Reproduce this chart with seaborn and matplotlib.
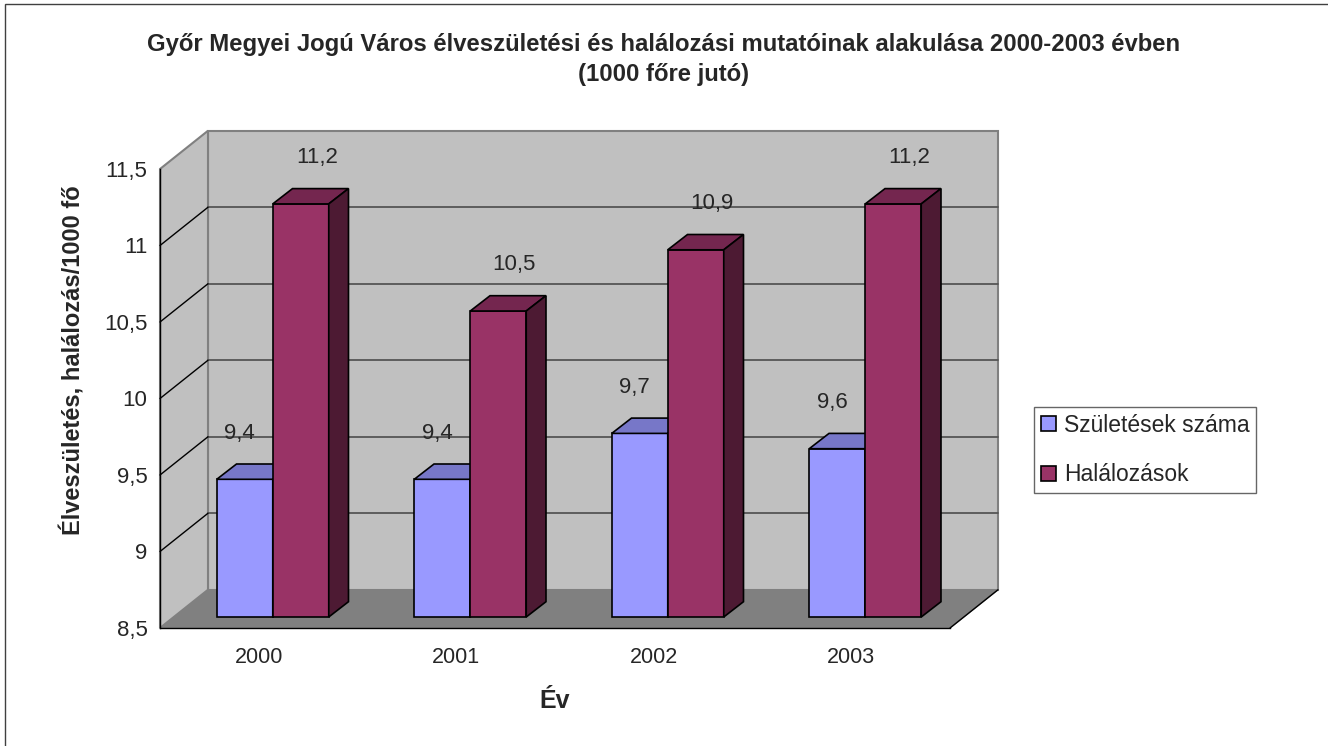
import numpy as np
import pandas as pd
import seaborn as sns
import matplotlib.pyplot as plt
from matplotlib.patches import Polygon, Rectangle, Patch
from matplotlib.ticker import FixedLocator, FuncFormatter, NullFormatter

# chart data
years = ["2000", "2001", "2002", "2003"]
births = [9.4, 9.4, 9.7, 9.6]
deaths = [11.2, 10.5, 10.9, 11.2]
series_names = ["Születések száma", "Halálozások"]
y_ticks = [8.5, 9, 9.5, 10, 10.5, 11, 11.5]

title_lines = ["Győr Megyei Jogú Város élveszületési és halálozási mutatóinak alakulása 2000-2003 évben",
               "(1000 főre jutó)"]
y_label = "Élveszületés, halálozás/1000 fő"
x_label = "Év"

# excel-ish 3d colours: front face, top face, side face
front_colors = ["#9999FF", "#993366"]
top_colors = ["#7777C8", "#74264F"]
side_colors = ["#5C5C99", "#4D1A33"]

W, H = 1328, 746
YMIN, YMAX = 8.5, 11.5
WALL_DX, WALL_DY = 0.243, 0.25   # depth of the box, in data units
BAR_DX, BAR_DY = 0.10, 0.10     # depth of one bar
LABEL_DX = [-5, 16]             # data label shift (pixels) per series


def comma(v, pos=None):
    return f"{v:g}".replace(".", ",")


sns.set_style("white")
plt.rcParams["font.family"] = ["Liberation Sans", "DejaVu Sans"]

fig = plt.figure(figsize=(W / 100, H / 100), dpi=100)

# front plane of the box (axis lines, ticks, walls) and the plane the bars stand in
ax_box = fig.add_axes([160 / W, 118 / H, 790 / W, 459 / H])
ax = fig.add_axes([174 / W, 129 / H, 790 / W, 459 / H])

# ---- box: floor, walls, gridlines
ax_box.set_xlim(-0.5, len(years) - 0.5)
ax_box.set_ylim(YMIN, YMAX)
x0, x1 = -0.5, len(years) - 0.5

floor = Polygon([(x0, YMIN), (x1, YMIN), (x1 + WALL_DX, YMIN + WALL_DY), (x0 + WALL_DX, YMIN + WALL_DY)],
                closed=True, fc="#808080", ec="#808080", lw=1, clip_on=False, zorder=0.5)
back = Rectangle((x0 + WALL_DX, YMIN + WALL_DY), x1 - x0, YMAX - YMIN,
                 fc="#C0C0C0", ec="#808080", lw=1.5, clip_on=False, zorder=0.4)
side = Polygon([(x0, YMIN), (x0, YMAX), (x0 + WALL_DX, YMAX + WALL_DY), (x0 + WALL_DX, YMIN + WALL_DY)],
               closed=True, fc="#C0C0C0", ec="#808080", lw=1.5, clip_on=False, zorder=0.6)
for p in (floor, back, side):
    ax_box.add_patch(p)

for t in y_ticks[1:-1]:
    ax_box.plot([x0 + WALL_DX, x1 + WALL_DX], [t + WALL_DY] * 2, color="#555555", lw=1.3,
                clip_on=False, zorder=0.7)
    ax_box.plot([x0, x0 + WALL_DX], [t, t + WALL_DY], color="black", lw=1, clip_on=False, zorder=0.7)
ax_box.plot([x1, x1 + WALL_DX], [YMIN, YMIN + WALL_DY], color="black", lw=1, clip_on=False, zorder=0.7)

ax_box.patch.set_alpha(0)
for s in ["top", "right"]:
    ax_box.spines[s].set_visible(False)
for s in ["left", "bottom"]:
    ax_box.spines[s].set_color("black")
    ax_box.spines[s].set_linewidth(1)

ax_box.yaxis.set_major_locator(FixedLocator(y_ticks))
ax_box.yaxis.set_major_formatter(FuncFormatter(comma))
ax_box.tick_params(axis="y", direction="out", length=6, width=1, color="black", labelsize=16, pad=3)

ax_box.xaxis.set_major_locator(FixedLocator(np.arange(len(years) + 1) - 0.5))
ax_box.xaxis.set_major_formatter(NullFormatter())
ax_box.xaxis.set_minor_locator(FixedLocator(np.arange(len(years))))
ax_box.xaxis.set_minor_formatter(FuncFormatter(lambda v, pos: years[int(round(v))]))
ax_box.tick_params(axis="x", which="major", direction="out", length=7, width=1, color="black")
ax_box.tick_params(axis="x", which="minor", length=0, labelsize=15.5, pad=14)

ax_box.set_ylabel(y_label, fontsize=17, fontweight="bold")
ax_box.yaxis.set_label_coords(-0.094, 0.584)
ax_box.set_xlabel(x_label, fontsize=18, fontweight="bold")
ax_box.xaxis.set_label_coords(0.5, -0.133)

# ---- bars
df = pd.DataFrame({
    "year": years * 2,
    "value": births + deaths,
    "series": [series_names[0]] * len(years) + [series_names[1]] * len(years),
})
sns.barplot(data=df, x="year", y="value", hue="series", hue_order=series_names,
            palette=front_colors, saturation=1, width=0.567, errorbar=None,
            edgecolor="black", linewidth=1.2, legend=False, ax=ax)

ax.set_xlim(-0.5, len(years) - 0.5)
ax.set_ylim(YMIN, YMAX)
ax.axis("off")
ax.patch.set_alpha(0)

for i, cont in enumerate(ax.containers):
    z = 2 + i
    for bar in cont:
        v = bar.get_height()
        bx, bw = bar.get_x(), bar.get_width()
        bar.set_y(YMIN)
        bar.set_height(v - YMIN)
        bar.set_clip_on(False)
        bar.set_zorder(z)
        top = Polygon([(bx, v), (bx + bw, v), (bx + bw + BAR_DX, v + BAR_DY), (bx + BAR_DX, v + BAR_DY)],
                      closed=True, fc=top_colors[i], ec="black", lw=1.2, clip_on=False, zorder=z)
        sd = Polygon([(bx + bw, YMIN), (bx + bw, v), (bx + bw + BAR_DX, v + BAR_DY), (bx + bw + BAR_DX, YMIN + BAR_DY)],
                     closed=True, fc=side_colors[i], ec="black", lw=1.2, clip_on=False, zorder=z)
        ax.add_patch(top)
        ax.add_patch(sd)
        ax.annotate(f"{v:.1f}".replace(".", ","), xy=(bx + bw / 2, v), xytext=(LABEL_DX[i], 46),
                    textcoords="offset pixels", ha="center", va="center", fontsize=16,
                    annotation_clip=False, zorder=5)

# ---- title, legend, outer frame
fig.text(0.5, 1 - 45 / H, title_lines[0], ha="center", va="center", fontsize=17.2, fontweight="bold")
fig.text(0.5, 1 - 75 / H, title_lines[1], ha="center", va="center", fontsize=17.2, fontweight="bold")

handles = [Patch(fc=c, ec="black", lw=1.2) for c in front_colors]
leg = fig.legend(handles, series_names, loc="upper left", bbox_to_anchor=(1034 / W, 1 - 407 / H),
                 frameon=True, fancybox=False, edgecolor="#404040", fontsize=16.5,
                 handlelength=0.65, handleheight=0.65, handletextpad=0.35,
                 labelspacing=1.15, borderpad=0.3, borderaxespad=0)
leg.get_frame().set_linewidth(1)

fig.add_artist(Rectangle((5 / W, -0.1), 1.2, 1.1 - 4 / H, transform=fig.transFigure,
                         fill=False, ec="#404040", lw=1))

fig.savefig("out.png", dpi=100)
